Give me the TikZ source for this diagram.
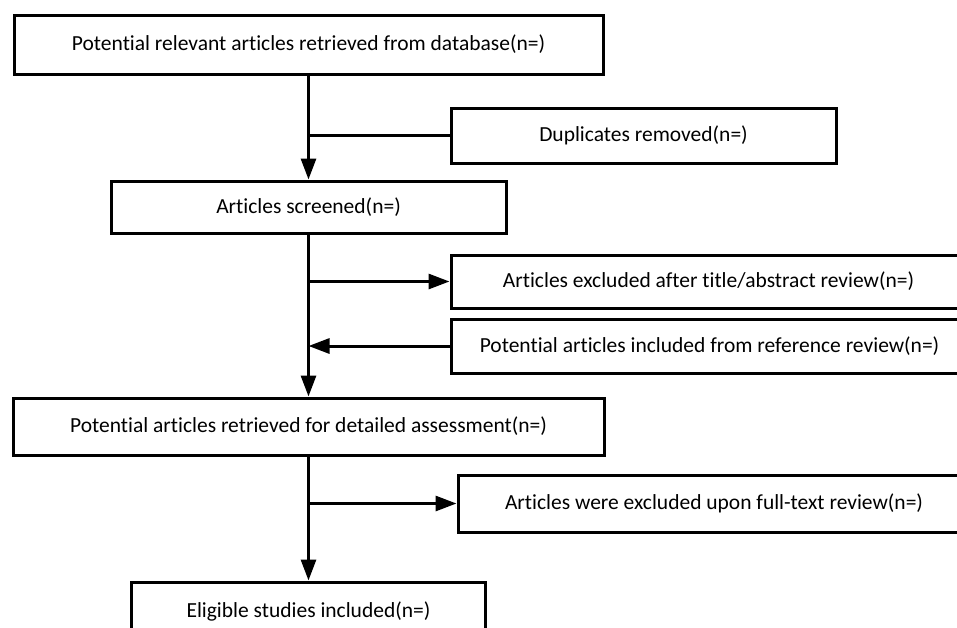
\documentclass[tikz,border=0pt]{standalone}
\usepackage{fontspec}
\setmainfont[Ligatures={NoCommon}]{Carlito}
\usetikzlibrary{arrows.meta}
\begin{document}
\begin{tikzpicture}[x=1pt, y=-1pt,
    box/.style={draw, line width=3pt, inner sep=0pt, font=\fontsize{21.5}{26}\selectfont},
    flow/.style={line width=3pt, -{Triangle[length=21pt, width=15pt]}},
    link/.style={line width=3pt}]
    \useasboundingbox[fill=white] (0,0) rectangle (957,627);
    % main column
    \node[box, minimum width=589pt, minimum height=59pt] (db) at (308.5,44.5)
        {Potential relevant articles retrieved from database(n=)};
    \node[box, minimum width=395pt, minimum height=52pt] (scr) at (308.5,207)
        {Articles screened(n=)};
    \node[box, minimum width=591pt, minimum height=57pt] (ret) at (308.5,426.5)
        {Potential articles retrieved for detailed assessment(n=)};
    \node[box, minimum width=354pt, minimum height=58pt] (elig) at (308.5,611)
        {Eligible studies included(n=)};
    % side boxes
    \node[box, minimum width=385pt, minimum height=55pt] (dup) at (643.5,135.5)
        {Duplicates removed(n=)};
    \node[box, minimum width=515pt, minimum height=53pt] (exc) at (708.5,281.5)
        {Articles excluded after title/abstract review(n=)};
    \node[box, minimum width=517pt, minimum height=54pt] (inc) at (709.5,346)
        {Potential articles included from reference review(n=)};
    \node[box, minimum width=512pt, minimum height=57pt] (full) at (714,503.5)
        {Articles were excluded upon full-text review(n=)};
    % connectors
    \draw[flow] (db) -- (scr);
    \draw[flow] (scr) -- (ret);
    \draw[flow] (ret) -- (elig);
    \draw[link] (db.south |- dup.west) -- (dup.west);
    \draw[flow] (scr.south |- exc.west) -- (exc.west);
    \draw[flow] (inc.west) -- (scr.south |- inc.west);
    \draw[flow] (ret.south |- full.west) -- (full.west);
\end{tikzpicture}
\end{document}
